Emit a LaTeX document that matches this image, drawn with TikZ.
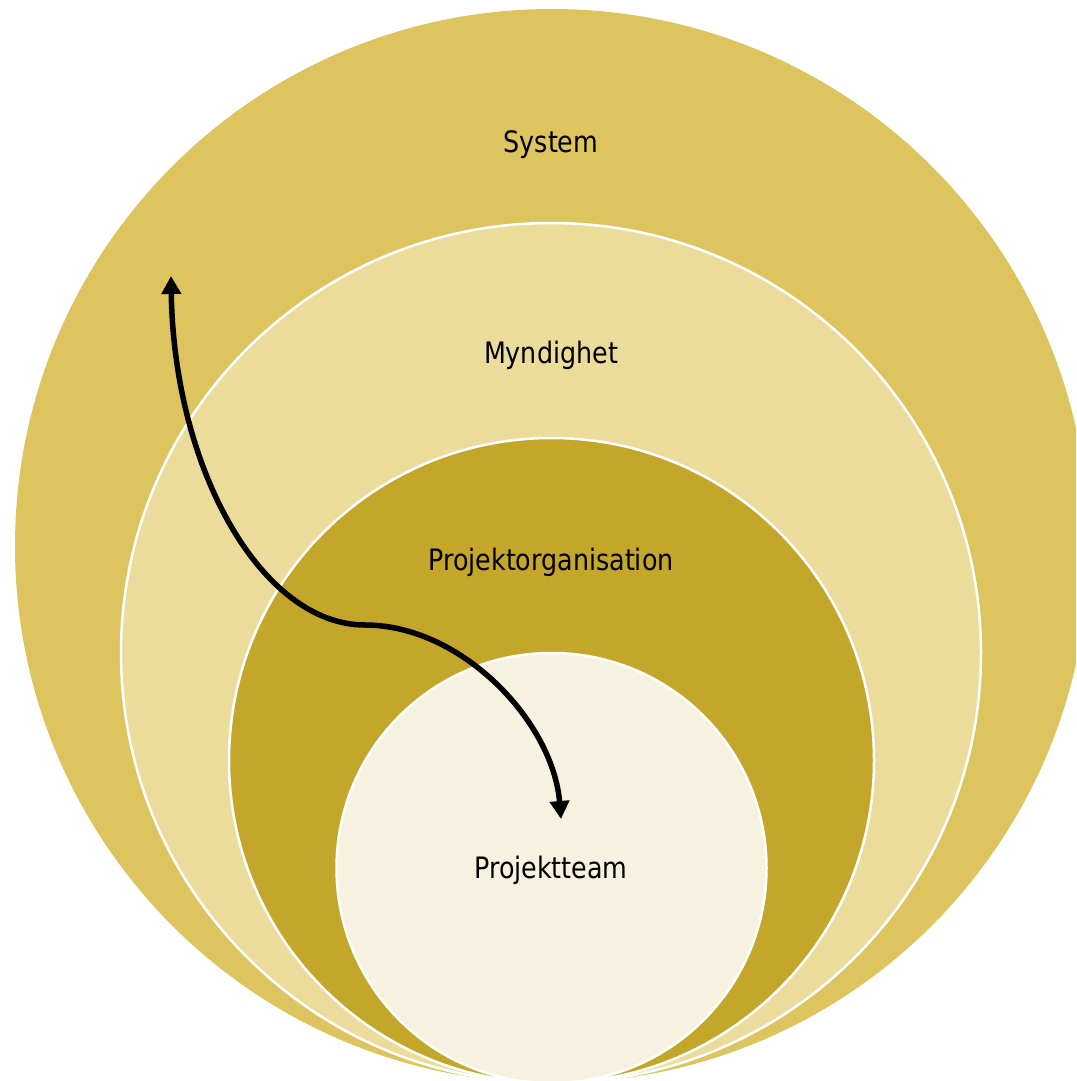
\documentclass[tikz,border=0pt]{standalone}
\usepackage{fontspec}
\setmainfont{DejaVu Sans}
\usetikzlibrary{arrows.meta}
\definecolor{csystem}{RGB}{221,196,94}
\definecolor{cmynd}{RGB}{235,220,155}
\definecolor{corg}{RGB}{196,166,42}
\definecolor{cteam}{RGB}{247,242,223}
\newcommand{\narrowtxt}[1]{\scalebox{0.86}[1]{#1}}
\tikzset{
  ring/.style={draw=white, line width=2.5pt},
  lbl/.style={font=\fontsize{29.5}{34}\selectfont, text=black, inner sep=0pt},
  flow/.style={line width=5.5pt, {Triangle[width=19pt,length=18pt]}-{Triangle[width=19pt,length=18pt]}},
}
\begin{document}
\begin{tikzpicture}[x=1pt,y=-1pt]
\useasboundingbox (0,0) rectangle (1076,1081);
\begin{scope}
\clip (0,0) rectangle (1076,1081);
\fill[csystem] (552,546) circle (537);
\filldraw[cmynd, ring] (551,653) circle (430);
\filldraw[corg, ring] (551.5,760.5) circle (322.5);
\filldraw[cteam, ring] (551.5,868) circle (215);
\end{scope}
\node[lbl] (system) at (551,145) {\narrowtxt{System}};
\node[lbl] (mynd) at (551,355) {\narrowtxt{Myndighet}};
\node[lbl] (org) at (551,562) {\narrowtxt{Projektorganisation}};
\node[lbl] (team) at (551,870) {\narrowtxt{Projektteam}};
\coordinate (top) at (171,276);
\coordinate (mid) at (365,625);
\coordinate (bot) at (561,819);
\draw[flow] (top) .. controls (174,470) and (262,625) .. (mid)
  .. controls (462,625) and (553,722) .. (bot);
\end{tikzpicture}
\end{document}
